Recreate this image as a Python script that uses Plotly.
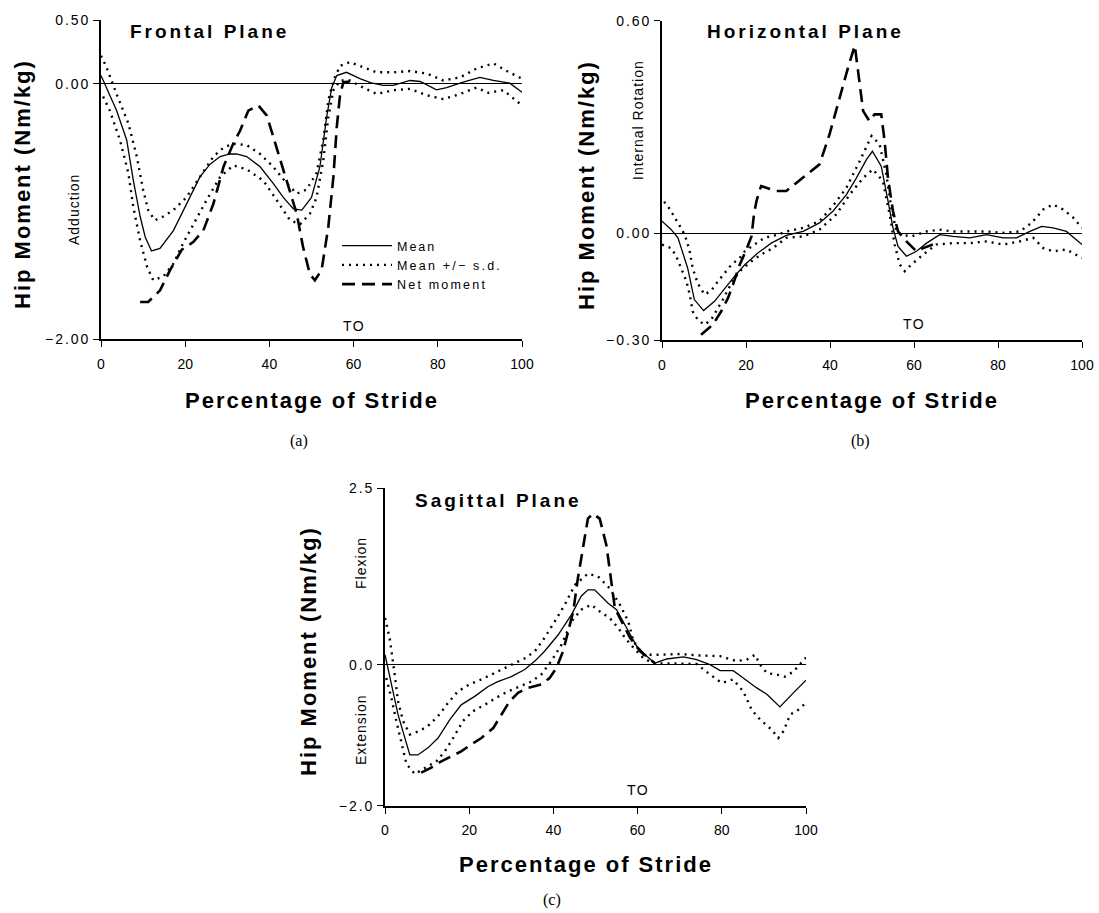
import plotly.graph_objects as go

# ---------------- data ----------------
stride_ticks = [0, 20, 40, 60, 80, 100]

# (a) Frontal plane
a_mean_x = [0, 3.7, 6.1, 7.7, 9.3, 10.5, 12.0, 14.0, 17.2, 20.3, 23.5, 25.9, 28.3, 30.6, 32.2, 34.6, 37.8, 40.9, 43.3, 45.7, 47.7, 50.0, 52.0, 53.6, 54.8, 56.0, 58.3, 61.5, 64, 67, 69.4, 73.4, 75.8, 79.7, 82.1, 86, 90, 93.2, 97.1, 100]
a_mean_y = [0.065, -0.21, -0.44, -0.76, -1.04, -1.20, -1.31, -1.29, -1.15, -0.94, -0.73, -0.63, -0.57, -0.55, -0.55, -0.57, -0.65, -0.78, -0.89, -0.98, -0.99, -0.89, -0.65, -0.26, -0.03, 0.065, 0.09, 0.04, 0.01, -0.013, -0.013, 0.026, 0.018, -0.047, -0.03, 0.013, 0.05, 0.026, 0.005, -0.066]
a_up_x = [0, 1.3, 3.7, 6.5, 8.5, 10, 11.2, 12.8, 14.8, 17.2, 20.3, 23.5, 26.7, 29.1, 31.4, 34.6, 37.8, 40.9, 44.1, 46.5, 48.8, 51.2, 52.8, 54, 55.2, 56.8, 59.1, 61.5, 65.5, 69.4, 73.4, 77.4, 81.3, 85.3, 89.2, 93.2, 96.4, 100]
a_up_y = [0.22, 0.13, -0.08, -0.31, -0.57, -0.83, -0.99, -1.07, -1.04, -0.99, -0.89, -0.73, -0.57, -0.50, -0.47, -0.48, -0.55, -0.65, -0.78, -0.86, -0.83, -0.70, -0.44, -0.13, 0.026, 0.14, 0.17, 0.14, 0.09, 0.09, 0.10, 0.08, 0.026, 0.05, 0.12, 0.16, 0.10, 0.04]
a_lo_x = [0.5, 2.1, 4.5, 6.5, 7.7, 9.3, 10.9, 12.4, 14.8, 17.2, 19.5, 21.9, 25.1, 28.3, 31.4, 34.6, 38.6, 41.7, 44.9, 47.3, 49.6, 51.2, 52.8, 54, 55.2, 56.8, 59.1, 62.3, 65.5, 69.4, 73.4, 77.4, 81.3, 85.3, 89.2, 92, 95.6, 100]
a_lo_y = [-0.10, -0.21, -0.44, -0.70, -0.97, -1.23, -1.43, -1.54, -1.51, -1.41, -1.25, -1.10, -0.91, -0.73, -0.64, -0.67, -0.76, -0.91, -1.07, -1.10, -1.02, -0.89, -0.60, -0.26, -0.05, 0.026, 0.026, -0.03, -0.08, -0.05, -0.04, -0.09, -0.12, -0.08, -0.03, -0.07, -0.05, -0.17]
a_net_x = [9.3, 11.2, 14, 16.4, 19.2, 21.9, 24.3, 26.7, 29.1, 31.4, 33, 35, 37.4, 39.4, 41.7, 44.1, 46.5, 48, 49.6, 50.8, 52.4, 54, 55.2, 56, 56.8, 57.6, 60]
a_net_y = [-1.71, -1.71, -1.62, -1.46, -1.30, -1.24, -1.15, -0.94, -0.65, -0.47, -0.37, -0.21, -0.17, -0.25, -0.50, -0.76, -1.02, -1.28, -1.49, -1.54, -1.46, -1.12, -0.73, -0.34, -0.08, 0.013, 0.02]
a_ticks = [0.5, 0.0, -2.0]
a_ticktext = ["0.50", "0.00", "\u22122.00"]

# (b) Horizontal plane
b_mean_x = [0, 2.2, 3.8, 6.1, 7.7, 9.9, 12.5, 15.3, 17.3, 19.7, 22.8, 26, 29.6, 33.6, 37.5, 40.7, 43.9, 46.3, 48.7, 50.1, 52.2, 53.8, 55, 56.2, 58.2, 60.6, 63, 66.1, 69.3, 73.3, 77.3, 81.2, 84.4, 87.6, 90.4, 93.1, 96.3, 100]
b_mean_y = [0.035, 0.011, -0.012, -0.097, -0.186, -0.217, -0.191, -0.148, -0.12, -0.088, -0.055, -0.027, -0.005, 0.006, 0.03, 0.063, 0.11, 0.157, 0.209, 0.232, 0.19, 0.093, 0.016, -0.036, -0.064, -0.05, -0.027, -0.003, -0.008, -0.012, -0.003, -0.012, -0.012, 0.006, 0.02, 0.016, 0.006, -0.031]
b_up_x = [0.5, 1.4, 2.6, 3.8, 5, 5.8, 6.6, 7.3, 8.5, 10.1, 11.7, 13.3, 14.9, 16.5, 18.5, 19.7, 22, 24.4, 27.6, 29.6, 33.6, 37.5, 40.7, 43.9, 47.1, 49.9, 51.8, 53.4, 54.6, 55.8, 57, 59.4, 63, 66.1, 69.3, 73.3, 77.3, 81.2, 85.2, 88, 90.8, 93.1, 95.5, 97.9, 100]
b_up_y = [0.09, 0.077, 0.054, 0.03, 0.006, -0.017, -0.05, -0.097, -0.14, -0.172, -0.161, -0.135, -0.111, -0.088, -0.069, -0.05, -0.031, -0.012, -0.003, 0.006, 0.016, 0.035, 0.078, 0.129, 0.205, 0.275, 0.252, 0.167, 0.073, 0.006, -0.003, -0.008, 0.006, 0.011, 0.006, 0.006, 0.006, 0.002, 0.006, 0.03, 0.068, 0.082, 0.068, 0.045, 0.016]
b_lo_x = [0, 2.2, 3.4, 4.6, 5.8, 6.6, 7.3, 8.5, 10.1, 11.7, 12.9, 14.5, 15.7, 17.3, 18.9, 21.3, 23.6, 26.4, 29.6, 33.6, 37.5, 41.5, 44.7, 47.9, 50.2, 52.6, 54.2, 55.4, 56.6, 57.8, 59.4, 62.2, 65.3, 69.3, 73.3, 77.3, 81.2, 85.2, 88.4, 90.8, 93.1, 96.3, 100]
b_lo_y = [-0.031, -0.041, -0.064, -0.097, -0.134, -0.172, -0.219, -0.243, -0.257, -0.243, -0.219, -0.186, -0.158, -0.125, -0.102, -0.078, -0.059, -0.041, -0.012, -0.008, 0.011, 0.054, 0.11, 0.157, 0.181, 0.148, 0.054, -0.031, -0.087, -0.106, -0.087, -0.059, -0.031, -0.027, -0.027, -0.022, -0.031, -0.022, -0.012, -0.041, -0.05, -0.045, -0.069]
b_net_x = [9.3, 12.1, 14.1, 15.7, 16.9, 18.5, 20.1, 21.3, 21.9, 22.5, 23.6, 27.2, 29.6, 33.6, 37.5, 39.9, 42.3, 44.3, 45.9, 47.1, 47.9, 49.4, 50.6, 52.2, 53, 53.8, 55, 56.2, 58.2, 60.6, 62.2, 64.5]
b_net_y = [-0.285, -0.257, -0.219, -0.182, -0.144, -0.088, -0.045, -0.008, 0.054, 0.092, 0.134, 0.12, 0.12, 0.157, 0.195, 0.28, 0.384, 0.468, 0.53, 0.421, 0.345, 0.317, 0.336, 0.336, 0.261, 0.157, 0.063, 0.006, -0.022, -0.05, -0.041, -0.031]
b_ticks = [0.6, 0.0, -0.3]
b_ticktext = ["0.60", "0.00", "\u22120.30"]

# (c) Sagittal plane
c_mean_x = [0, 1.1, 3.1, 5.9, 7.8, 10.2, 12.6, 15.4, 18.1, 21.3, 24.5, 26.8, 30, 33.2, 35.6, 37.9, 41.1, 44.3, 46.6, 48.2, 49.8, 53, 55, 57.4, 59.8, 62.2, 64.1, 66.9, 70.9, 74, 77.2, 79.6, 82.7, 85.1, 88.3, 90.7, 93.8, 97, 100]
c_mean_y = [0.14, -0.146, -0.71, -1.28, -1.28, -1.18, -1.04, -0.78, -0.57, -0.45, -0.31, -0.24, -0.17, -0.07, 0.05, 0.19, 0.42, 0.71, 0.97, 1.06, 1.06, 0.87, 0.78, 0.52, 0.26, 0.12, 0.02, 0.08, 0.11, 0.07, 0, -0.085, -0.085, -0.19, -0.33, -0.42, -0.60, -0.40, -0.22]
c_up_x = [0, 1.1, 2.3, 3.1, 4.3, 5.9, 8.2, 10.2, 12.6, 15, 17.3, 20.1, 22.9, 26.1, 28.4, 30.8, 33.2, 35.6, 37.9, 40.3, 42.7, 45.1, 48.2, 50.6, 53.4, 55.8, 57.8, 59, 61.4, 65.3, 70.1, 74.8, 79.6, 83.5, 85.9, 87.9, 89.1, 90.7, 93, 95, 97, 100]
c_up_y = [0.66, 0.38, -0.14, -0.52, -0.80, -0.99, -0.94, -0.87, -0.73, -0.54, -0.38, -0.28, -0.21, -0.12, -0.05, 0.02, 0.09, 0.19, 0.38, 0.61, 0.85, 1.13, 1.29, 1.25, 1.08, 0.85, 0.61, 0.33, 0.14, 0.14, 0.15, 0.13, 0.12, 0.05, 0.07, 0.14, 0, -0.12, -0.14, -0.17, -0.10, 0.10]
c_lo_x = [0.3, 1.5, 2.7, 3.9, 5.1, 7.1, 9.8, 12.2, 14.2, 16.2, 18.5, 20.9, 23.7, 26.4, 29.2, 32, 34.8, 37.1, 39.5, 41.9, 44.3, 46.6, 49, 51.1, 53.4, 55.4, 57, 59, 61.4, 63.7, 66.9, 70.1, 74, 77.2, 80, 82.7, 85.1, 87.1, 89.1, 91.8, 93.4, 94.7, 96.2, 98.2, 100]
c_lo_y = [-0.19, -0.47, -0.80, -1.13, -1.41, -1.55, -1.46, -1.37, -1.23, -1.04, -0.80, -0.66, -0.57, -0.47, -0.38, -0.31, -0.24, -0.14, 0.05, 0.28, 0.61, 0.78, 0.85, 0.75, 0.66, 0.52, 0.38, 0.24, 0.09, 0.02, 0.02, 0.02, 0.01, -0.14, -0.26, -0.21, -0.38, -0.64, -0.78, -0.92, -1.04, -0.94, -0.71, -0.64, -0.54]
c_net_x = [8.6, 11, 13.4, 15.7, 18.1, 20.5, 22.9, 25.7, 27.6, 29.6, 31.6, 33.9, 37.1, 39.1, 40.7, 42.3, 43.5, 44.7, 45.8, 47, 48.2, 49.4, 51, 52.6, 53.4, 54.6, 55.8, 58.2, 60.6, 63, 64.1]
c_net_y = [-1.53, -1.46, -1.37, -1.30, -1.23, -1.13, -1.04, -0.90, -0.71, -0.52, -0.40, -0.33, -0.28, -0.19, -0.05, 0.19, 0.47, 0.75, 1.22, 1.65, 2.07, 2.14, 2.07, 1.69, 1.30, 0.80, 0.66, 0.38, 0.19, 0.07, 0.02]
c_ticks = [2.5, 0.0, -2.0]
c_ticktext = ["2.5", "0.0", "\u22122.0"]

series_names = ["Mean", "Mean +/\u2212 s.d.", "Net moment"]

# ---------------- figure ----------------
W, H = 1099, 913
FONT = "Liberation Sans, Arial, sans-serif"
SERIF = "Liberation Serif, Times New Roman, serif"


def px(x):
    return x / W


def py(y):
    return 1 - y / H


def ls(text, sp):
    return '<span style="letter-spacing:%spx">%s</span>' % (sp, text)


fig = go.Figure()

panels = [
    ("x", "y", a_mean_x, a_mean_y, a_up_x, a_up_y, a_lo_x, a_lo_y, a_net_x, a_net_y),
    ("x2", "y2", b_mean_x, b_mean_y, b_up_x, b_up_y, b_lo_x, b_lo_y, b_net_x, b_net_y),
    ("x3", "y3", c_mean_x, c_mean_y, c_up_x, c_up_y, c_lo_x, c_lo_y, c_net_x, c_net_y),
]

mean_line = dict(color="black", width=1.3)
sd_line = dict(color="black", width=2.4, dash="2px,5px")
net_line = dict(color="black", width=2.6, dash="13px,7px")

for i, (xa, ya, mx, my, ux, uy, lx, ly, nx, ny) in enumerate(panels):
    first = i == 0
    fig.add_trace(go.Scatter(x=mx, y=my, mode="lines", line=mean_line, xaxis=xa, yaxis=ya,
                             name=ls(series_names[0], 2), showlegend=first, legendrank=1))
    fig.add_trace(go.Scatter(x=ux, y=uy, mode="lines", line=sd_line, xaxis=xa, yaxis=ya,
                             name=ls(series_names[1], 2.2), showlegend=first, legendrank=2))
    fig.add_trace(go.Scatter(x=lx, y=ly, mode="lines", line=sd_line, xaxis=xa, yaxis=ya,
                             name=series_names[1], showlegend=False))
    fig.add_trace(go.Scatter(x=nx, y=ny, mode="lines", line=net_line, xaxis=xa, yaxis=ya,
                             name=ls(series_names[2], 2.2), showlegend=first, legendrank=3))

# plot-area boxes in pixels: (left, right, top, bottom)
boxes = [(101, 522, 20, 339), (662, 1082, 20.7, 340), (385, 806, 488.3, 805.7)]
yranges = [(-2.0, 0.5), (-0.3, 0.6), (-2.0, 2.5)]
yticks = [(a_ticks, a_ticktext), (b_ticks, b_ticktext), (c_ticks, c_ticktext)]

axis_common = dict(showline=True, linecolor="black", linewidth=1.6, ticks="outside",
                   ticklen=6, tickwidth=1.4, tickcolor="black", showgrid=False,
                   tickfont=dict(family=FONT, size=14, color="black"), automargin=False)

layout = {}
for i, (l, r, t, b) in enumerate(boxes):
    suffix = "" if i == 0 else str(i + 1)
    layout["xaxis" + suffix] = dict(
        axis_common, domain=[px(l), px(r)], range=[0, 100], zeroline=False,
        tickvals=stride_ticks, ticktext=[str(v) for v in stride_ticks],
        anchor="y" + suffix, ticklabelstandoff=5)
    tv, tt = yticks[i]
    layout["yaxis" + suffix] = dict(
        axis_common, domain=[py(b), py(t)], range=list(yranges[i]),
        tickvals=tv, ticktext=[ls(s, 2) for s in tt], anchor="x" + suffix,
        zeroline=True, zerolinecolor="black", zerolinewidth=1.3)

fig.update_layout(**layout)

ann = []
bold_title = dict(family=FONT, size=22, color="black")
plane_font = dict(family=FONT, size=19, color="black")
small_font = dict(family=FONT, size=14, color="black")
label_font = dict(family=SERIF, size=16, color="black")

# panel titles
for txt, x, y in [("Frontal Plane", 128, 31), ("Horizontal Plane", 705, 31), ("Sagittal Plane", 413, 500)]:
    ann.append(dict(text="<b>" + ls(txt, 3) + "</b>", x=px(x), y=py(y), xref="paper", yref="paper",
                    xanchor="left", yanchor="middle", showarrow=False, font=plane_font))

# x-axis titles
for x, y in [(312, 400), (872, 400), (586, 864)]:
    ann.append(dict(text="<b>" + ls("Percentage of Stride", 2) + "</b>", x=px(x), y=py(y),
                    xref="paper", yref="paper", xanchor="center", yanchor="middle",
                    showarrow=False, font=bold_title))

# y-axis titles
for x, y in [(22, 184), (586, 185), (308, 651)]:
    ann.append(dict(text="<b>" + ls("Hip Moment (Nm/kg)", 2) + "</b>", x=px(x), y=py(y),
                    xref="paper", yref="paper", xanchor="center", yanchor="middle",
                    textangle=-90, showarrow=False, font=bold_title))

# direction labels
for txt, x, y in [("Adduction", 74, 210), ("Internal Rotation", 638, 120),
                  ("Flexion", 361, 563), ("Extension", 361, 730)]:
    ann.append(dict(text=ls(txt, 1), x=px(x), y=py(y), xref="paper", yref="paper",
                    xanchor="center", yanchor="middle", textangle=-90, showarrow=False,
                    font=small_font))

# toe-off labels
for xa, ya, yv in [("x", "y", -1.9), ("x2", "y2", -0.255), ("x3", "y3", -1.78)]:
    ann.append(dict(text=ls("TO", 1.5), x=60, y=yv, xref=xa, yref=ya, xanchor="center",
                    yanchor="middle", showarrow=False, font=small_font))

# sub-figure letters
for txt, x, y in [("(a)", 299, 441), ("(b)", 860, 441), ("(c)", 552, 900)]:
    ann.append(dict(text=txt, x=px(x), y=py(y), xref="paper", yref="paper", xanchor="center",
                    yanchor="middle", showarrow=False, font=label_font))

fig.update_layout(
    width=W, height=H, margin=dict(l=0, r=0, t=0, b=0),
    paper_bgcolor="white", plot_bgcolor="white", template="none",
    annotations=ann,
    legend=dict(x=px(337), y=py(231), xanchor="left", yanchor="top",
                bgcolor="rgba(0,0,0,0)", font=dict(family=FONT, size=12.5, color="black"),
                itemwidth=50, tracegroupgap=0, traceorder="normal"),
)

fig.write_html("out.html", config={"displayModeBar": False},
               post_script="document.body.style.margin='0px';document.body.style.overflow='hidden';")
